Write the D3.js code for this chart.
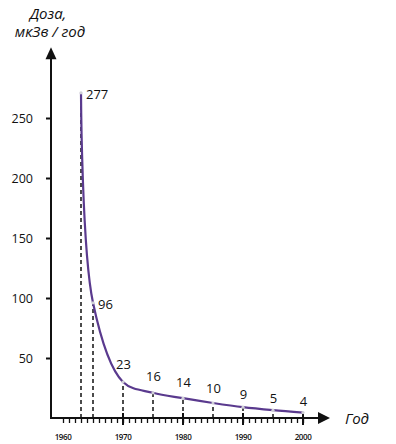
<!DOCTYPE html>
<html lang="ru">
<head>
<meta charset="UTF-8">
<title>Доза</title>
<style>
  body { margin: 0; background: #fff; }
  svg { display: block; }
  text { font-family: "Open Sans", "Noto Sans", sans-serif; fill: #111; }
</style>
</head>
<body>
<svg width="396" height="444"></svg>
<script src="https://cdn.jsdelivr.net/npm/d3@7"></script>
<script>
// годы и подписи значений (мкЗв / год)
const years = [1963, 1965, 1970, 1975, 1980, 1985, 1990, 1995, 2000];
const doseLabels = [277, 96, 23, 16, 14, 10, 9, 5, 4];
// положение кривой, как она нарисована на картинке
const doseCurve = [271, 96, 30, 21, 16.5, 12.5, 9, 6.5, 4.5];
const yTicks = [50, 100, 150, 200, 250];
const yearTicks = [1960, 1970, 1980, 1990, 2000];

const svg = d3.select('svg');

// масштабы
const x = d3.scaleLinear().domain([1958, 2000]).range([51, 303]);
const y = d3.scaleLinear().domain([0, 250]).range([418, 118]);

const ink = '#111';

// ось Y
svg.append('g')
  .attr('transform', 'translate(' + x(1958) + ',0)')
  .call(d3.axisLeft(y).tickValues(yTicks).tickSize(5).tickPadding(13))
  .call(g => g.select('.domain').remove())
  .call(g => g.selectAll('line').attr('stroke', ink).attr('stroke-width', 2))
  .call(g => g.selectAll('text').attr('font-size', 12.5).attr('font-family', '"Open Sans", sans-serif').attr('fill', ink));

svg.append('line')
  .attr('x1', x(1958)).attr('x2', x(1958))
  .attr('y1', y(0) + 1).attr('y2', y(300))
  .attr('stroke', ink).attr('stroke-width', 2);
svg.append('path')
  .attr('d', 'M' + (x(1958) - 5.5) + ',' + y(299) + 'L' + x(1958) + ',' + y(309) + 'L' + (x(1958) + 5.5) + ',' + y(299) + 'Z')
  .attr('fill', ink);

// ось X: мелкие засечки каждый год
svg.append('g')
  .attr('transform', 'translate(0,' + y(0) + ')')
  .call(d3.axisBottom(x).tickValues(d3.range(1960, 2001)).tickSize(5).tickFormat(''))
  .call(g => g.select('.domain').remove())
  .call(g => g.selectAll('line').attr('stroke', ink).attr('stroke-width', 1.3));

// крупные засечки
svg.append('g').selectAll('line')
  .data(yearTicks.slice(1))
  .enter().append('line')
  .attr('x1', d => x(d)).attr('x2', d => x(d))
  .attr('y1', y(0) - 5).attr('y2', y(0) + 7)
  .attr('stroke', ink).attr('stroke-width', 2);

svg.append('line')
  .attr('x1', x(1958) - 1).attr('x2', x(2002.6))
  .attr('y1', y(0)).attr('y2', y(0))
  .attr('stroke', ink).attr('stroke-width', 2);
svg.append('path')
  .attr('d', 'M' + x(2002.5) + ',' + (y(0) - 6) + 'L' + x(2004.5) + ',' + y(0) + 'L' + x(2002.5) + ',' + (y(0) + 6) + 'Z')
  .attr('fill', ink);

// подписи годов
svg.append('g').selectAll('text')
  .data(yearTicks)
  .enter().append('text')
  .attr('x', d => x(d))
  .attr('y', 440)
  .attr('text-anchor', 'middle')
  .attr('font-size', 8)
  .attr('font-weight', 600)
  .attr('letter-spacing', -0.4)
  .text(d => d);

// пунктир от оси к точкам
svg.append('g').selectAll('line')
  .data(years)
  .enter().append('line')
  .attr('x1', d => x(d)).attr('x2', d => x(d))
  .attr('y1', y(0))
  .attr('y2', (d, i) => y(doseCurve[i]))
  .attr('stroke', ink).attr('stroke-width', 1.5)
  .attr('stroke-dasharray', '4,3');

// кривая
const line = d3.line()
  .x((d, i) => x(years[i]))
  .y(d => y(d))
  .curve(d3.curveCatmullRom.alpha(0.5));

svg.append('path')
  .datum(doseCurve)
  .attr('d', line)
  .attr('fill', 'none')
  .attr('stroke', '#5a3a8e')
  .attr('stroke-width', 2.2);

// точки
svg.append('g').selectAll('circle')
  .data(doseCurve)
  .enter().append('circle')
  .attr('cx', (d, i) => x(years[i]))
  .attr('cy', d => y(d))
  .attr('r', 1.6)
  .attr('fill', '#cfcfd6');

// подписи значений
svg.append('g').selectAll('text')
  .data(doseLabels)
  .enter().append('text')
  .attr('x', (d, i) => i < 2 ? x(years[i]) + 5 : x(years[i]) + 0.5)
  .attr('y', (d, i) => i < 2 ? y(doseCurve[i]) + 6 : y(doseCurve[i]) - (13 - (i - 2) * 1.1))
  .attr('text-anchor', (d, i) => i < 2 ? 'start' : 'middle')
  .attr('font-size', 13)
  .text(d => d);

// названия осей
const title = svg.append('text')
  .attr('text-anchor', 'middle')
  .attr('font-size', 15)
  .attr('font-style', 'italic');
title.append('tspan').attr('x', 48).attr('y', 19).text('Доза,');
title.append('tspan').attr('x', 50).attr('y', 37).text('мкЗв / год');

svg.append('text')
  .attr('x', 345).attr('y', 424)
  .attr('font-size', 15)
  .attr('font-style', 'italic')
  .text('Год');
</script>
</body>
</html>
